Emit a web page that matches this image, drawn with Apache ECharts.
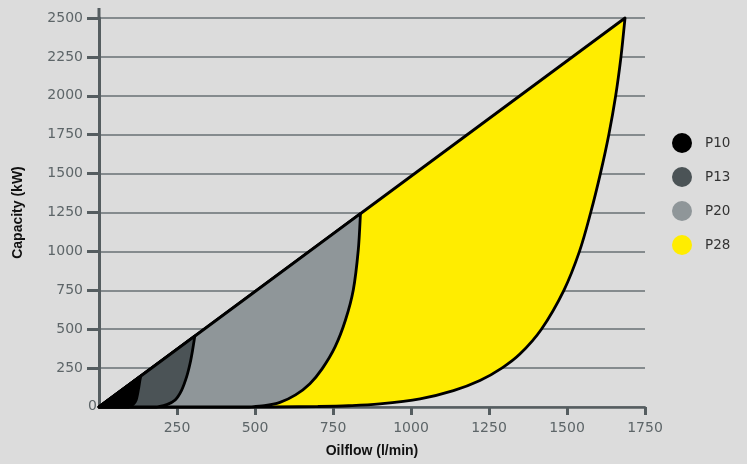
<!DOCTYPE html>
<html>
<head>
<meta charset="utf-8">
<script src="https://cdn.jsdelivr.net/npm/echarts@6/dist/echarts.min.js"></script>
<style>
html,body{margin:0;padding:0;background:#dcdcdc;}
#chart{width:747px;height:464px;}
</style>
</head>
<body>
<div id="chart"></div>
<script>
// ---- data ----
const seriesNames = ['P10', 'P13', 'P20', 'P28'];
const seriesColors = ['#000000', '#4b5356', '#8f9699', '#ffed00'];
// each curve: lower/right boundary from the x-axis up to the upper straight line
const p10Curve = [[95,0],[110,18],[119,45],[126,109],[131,170],[134,199]];
const p13Curve = [[185,0],[217,15],[244,45],[265,109],[281,195],[292,281],[300,366],[307,455]];
const p20Curve = [[480,0],[530,8],[580,30],[630,78],[676,150],[715,245],[757,388],[790,559],[815,752],[831,1009],[838,1243]];
const p28Curve = [[560,0],[700,3],[800,8],[900,20],[1029,52],[1136,105],[1221,170],[1291,250],[1349,340],[1418,500],[1490,750],[1540,1000],[1576,1250],[1607,1500],[1634,1750],[1656,2000],[1673,2250],[1686,2500]];
const curves = [p10Curve, p13Curve, p20Curve, p28Curve];
const origin = [0, 0];
const xTickLabels = [0, 250, 500, 750, 1000, 1250, 1500, 1750];
const yTickLabels = [0, 250, 500, 750, 1000, 1250, 1500, 1750, 2000, 2250, 2500];

const chart = echarts.init(document.getElementById('chart'));

function smoothSeg(pts, baseY) {
  let d = '';
  const n = pts.length;
  for (let i = 0; i < n - 1; i++) {
    const p0 = pts[Math.max(i - 1, 0)], p1 = pts[i], p2 = pts[i + 1], p3 = pts[Math.min(i + 2, n - 1)];
    const c1 = [p1[0] + (p2[0] - p0[0]) / 6, Math.min(baseY, p1[1] + (p2[1] - p0[1]) / 6)];
    const c2 = [p2[0] - (p3[0] - p1[0]) / 6, Math.min(baseY, p2[1] - (p3[1] - p1[1]) / 6)];
    d += 'C' + c1[0] + ',' + c1[1] + ' ' + c2[0] + ',' + c2[1] + ' ' + p2[0] + ',' + p2[1] + ' ';
  }
  return d;
}

function makeRender(curve, color) {
  return function (params, api) {
    const o = api.coord(origin);
    const pts = curve.map(p => api.coord(p)).reverse(); // top -> bottom
    let d = 'M' + o[0] + ',' + o[1] + ' L' + pts[0][0] + ',' + pts[0][1] + ' ';
    d += smoothSeg(pts, o[1]);
    d += 'L' + o[0] + ',' + o[1] + ' Z';
    return {
      type: 'path',
      shape: { pathData: d },
      style: { fill: color, stroke: '#000', lineWidth: 2.8, lineJoin: 'round' }
    };
  };
}

const series = [];
for (let i = curves.length - 1; i >= 0; i--) {
  series.push({
    type: 'custom',
    name: seriesNames[i],
    coordinateSystem: 'cartesian2d',
    data: [0],
    itemStyle: { color: seriesColors[i] },
    renderItem: makeRender(curves[i], seriesColors[i]),
    silent: true,
    z: 2
  });
}

const axisColor = '#555d60';
const labelStyle = { color: '#5d6568', fontSize: 14, fontFamily: 'DejaVu Sans', formatter: v => String(v) };

chart.setOption({
  backgroundColor: '#dcdcdc',
  animation: false,
  grid: { left: 99, right: 102, top: 18, bottom: 57 },
  legend: {
    data: seriesNames,
    orient: 'vertical',
    left: 667,
    top: 128,
    icon: 'circle',
    itemWidth: 22,
    itemHeight: 20,
    itemGap: 14,
    textStyle: { color: '#333', fontSize: 13.5, fontFamily: 'DejaVu Sans', padding: [0, 0, 0, 7] }
  },
  xAxis: {
    type: 'value',
    min: xTickLabels[0],
    max: xTickLabels[xTickLabels.length - 1],
    interval: 250,
    name: 'Oilflow (l/min)',
    nameLocation: 'middle',
    nameGap: 37,
    nameTextStyle: { color: '#111', fontWeight: 'bold', fontSize: 14, fontFamily: 'Liberation Sans' },
    axisLine: { lineStyle: { color: axisColor, width: 2.5 } },
    axisTick: { show: true, length: 8, lineStyle: { color: axisColor, width: 3 } },
    axisLabel: Object.assign({ margin: 14, showMinLabel: false }, labelStyle),
    splitLine: { show: false }
  },
  yAxis: {
    type: 'value',
    min: yTickLabels[0],
    max: yTickLabels[yTickLabels.length - 1],
    interval: 250,
    name: 'Capacity (kW)',
    nameLocation: 'middle',
    nameGap: 74,
    nameTextStyle: { color: '#111', fontWeight: 'bold', fontSize: 14, fontFamily: 'Liberation Sans' },
    axisLine: { show: true, lineStyle: { color: axisColor, width: 3 } },
    axisTick: { show: true, length: 12, lineStyle: { color: axisColor, width: 3 } },
    axisLabel: Object.assign({ margin: 16, showMinLabel: false }, labelStyle),
    splitLine: { show: true, lineStyle: { color: '#697074', width: 1.5 } }
  },
  graphic: [
    {
      type: 'line', z: 50,
      shape: { x1: 99, y1: 8, x2: 99, y2: 18 },
      style: { stroke: axisColor, lineWidth: 3 }
    },
    {
      type: 'rect', left: 82, top: 397, z: 50,
      shape: { width: 15, height: 22 },
      style: { fill: '#dcdcdc' }
    },
    {
      type: 'text', left: 88, top: 399, z: 51,
      style: { text: '0', fill: '#5d6568', fontSize: 14, fontFamily: 'DejaVu Sans' }
    }
  ],
  series: series
});
</script>
</body>
</html>
